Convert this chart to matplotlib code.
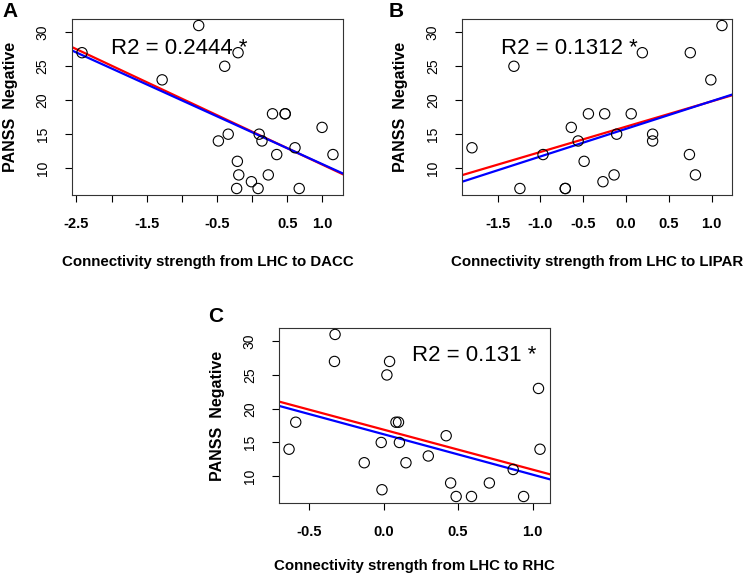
import matplotlib
matplotlib.use('Agg')
import matplotlib.pyplot as plt
import numpy as np

plt.rcParams['font.family'] = ['Liberation Sans', 'DejaVu Sans']

# PANSS negative scores (same for each panel, in the order points were read)
panss_a = [27, 31, 23, 27, 25, 18, 18, 18, 16, 15, 14, 15, 14, 13, 12, 12, 11, 9, 9, 8, 7, 7, 7]
conn_a = [-2.42, -0.76, -1.28, -0.20, -0.39, 0.29, 0.47, 0.47, 0.995, -0.34, -0.48, 0.10, 0.14,
          0.61, 0.35, 1.15, -0.21, -0.19, 0.23, -0.01, -0.22, 0.085, 0.67]

panss_b = [13, 25, 7, 12, 7, 7, 16, 14, 11, 18, 18, 8, 9, 15, 18, 27, 15, 14, 27, 12, 9, 23, 31]
conn_b = [-1.80, -1.31, -1.24, -0.97, -0.71, -0.71, -0.64, -0.56, -0.49, -0.44, -0.25, -0.27,
          -0.14, -0.11, 0.06, 0.19, 0.31, 0.31, 0.75, 0.74, 0.81, 0.99, 1.12]

panss_c = [31, 27, 27, 25, 23, 18, 18, 18, 16, 14, 14, 15, 15, 13, 12, 12, 11, 9, 9, 8, 7, 7, 7]
conn_c = [-0.326, -0.33, 0.04, 0.022, 1.04, -0.59, 0.083, 0.10, 0.42, -0.635, 1.05, -0.016,
          0.106, 0.30, -0.13, 0.15, 0.87, 0.45, 0.71, -0.011, 0.487, 0.59, 0.94]

# fitted lines (slope, intercept)
red_fit = {'A': (-4.86, 15.37), 'B': (3.73, 16.11), 'C': (-5.92, 16.90)}
blue_fit = {'A': (-4.70, 15.28), 'B': (4.07, 15.79), 'C': (-5.98, 16.22)}

r2_text = {'A': 'R2 = 0.2444 *', 'B': 'R2 = 0.1312 *', 'C': 'R2 = 0.131 *'}
r2_pos = {'A': (-1.03, 27.6), 'B': (-0.66, 27.6), 'C': (0.61, 27.9)}

xlabels = {'A': 'Connectivity strength from LHC to DACC',
           'B': 'Connectivity strength from LHC to LIPAR',
           'C': 'Connectivity strength from LHC to RHC'}

xticks = {'A': [-2.5, -2.0, -1.5, -1.0, -0.5, 0.0, 0.5, 1.0],
          'B': [-1.5, -1.0, -0.5, 0.0, 0.5, 1.0],
          'C': [-0.5, 0.0, 0.5, 1.0]}
xticklabels = {'A': ['-2.5', '', '-1.5', '', '-0.5', '', '0.5', '1.0'],
               'B': ['-1.5', '-1.0', '-0.5', '0.0', '0.5', '1.0'],
               'C': ['-0.5', '0.0', '0.5', '1.0']}
yticks = [10, 15, 20, 25, 30]

data = {'A': (conn_a, panss_a), 'B': (conn_b, panss_b), 'C': (conn_c, panss_c)}

fig = plt.figure(figsize=(7.45, 5.78), dpi=100)
boxes = {'A': [0.0966, 0.6626, 0.3638, 0.3045],
         'B': [0.6201, 0.6626, 0.3624, 0.3045],
         'C': [0.3745, 0.1298, 0.3638, 0.3028]}
letter_pos = {'A': (0.003, 0.980), 'B': (0.521, 0.980), 'C': (0.279, 0.452)}

for key in ['A', 'B', 'C']:
    ax = fig.add_axes(boxes[key])
    x = np.array(data[key][0])
    y = np.array(data[key][1])
    ax.scatter(x, y, s=55, facecolors='none', edgecolors='black', linewidths=0.8, zorder=3)

    # R style 4% padding of the axis range
    xr = x.max() - x.min()
    yr = y.max() - y.min()
    ax.set_xlim(x.min() - 0.04 * xr, x.max() + 0.04 * xr)
    ax.set_ylim(y.min() - 0.04 * yr, y.max() + 0.04 * yr)

    s, b = red_fit[key]
    ax.axline((0, b), slope=s, color='#ff0000', lw=1.6, zorder=2)
    s, b = blue_fit[key]
    ax.axline((0, b), slope=s, color='#0000ff', lw=1.6, zorder=2)

    ax.text(r2_pos[key][0], r2_pos[key][1], r2_text[key], fontsize=16,
            ha='center', va='center', color='black', zorder=4)

    ax.set_xticks(xticks[key])
    ax.set_xticklabels(xticklabels[key], fontsize=10.5, fontweight='bold')
    ax.set_yticks(yticks)
    ax.set_yticklabels([str(v) for v in yticks], fontsize=10, rotation=90, va='center')
    ax.tick_params(axis='x', direction='out', length=5, width=0.8, pad=11)
    ax.tick_params(axis='y', direction='out', length=5, width=0.8, pad=11)
    for sp in ax.spines.values():
        sp.set_linewidth(0.8)
        sp.set_color('#333333')

    ax.set_ylabel('PANSS  Negative', fontsize=11.5, fontweight='bold')
    ax.yaxis.set_label_coords(-0.2, 0.5)
    ax.set_xlabel(xlabels[key], fontsize=10.8, fontweight='bold')
    if key == 'C':
        ax.xaxis.set_label_coords(0.5, -0.32)
    else:
        ax.xaxis.set_label_coords(0.5, -0.34)

    fig.text(letter_pos[key][0], letter_pos[key][1], key, fontsize=15,
             fontweight='bold', ha='left', va='center')

fig.savefig('out.png', dpi=100)
